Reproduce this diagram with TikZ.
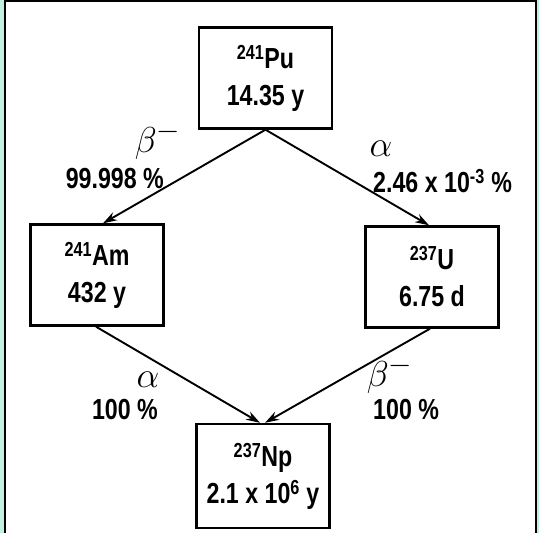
\documentclass[tikz,border=0pt]{standalone}
\usepackage{fontspec}
\usepackage{graphicx}
\setmainfont[FakeStretch=0.8]{Liberation Sans}
\usetikzlibrary{arrows.meta,positioning}
\definecolor{mint}{HTML}{C2F0DE}
\newcommand{\grk}[1]{\scalebox{1.45}{$#1$}}
\tikzset{
  nuc/.style  ={draw=black,line width=2.4pt,minimum width=133pt,minimum height=101pt,
                align=center,inner sep=0pt},
  decay/.style={-{Stealth[length=14pt,width=9pt]},line width=1.9pt},
  lab/.style  ={inner sep=0pt}
}

\begin{document}
\begin{tikzpicture}[x=1pt,y=1pt,every node/.style={font=\fontsize{29}{37}\selectfont\bfseries}]
  \useasboundingbox (0,0) rectangle (539,533);
  % frame
  \fill[mint] (0,0) rectangle (4,533);
  \fill[mint] (536.5,0) rectangle (539,533);
  \draw[line width=2pt] (5,0) -- (5,532) -- (535.5,532) -- (535.5,0);
  % nuclides
  \node[nuc] (pu) at (265.5,455) {\textsuperscript{241}Pu\\14.35 y};
  \node[nuc] (am) at (97,258) {\textsuperscript{241}Am\\432 y};
  \node[nuc] (u)  at (432,256) {\textsuperscript{237}U\\6.75 d};
  \node[nuc,minimum height=104pt] (np) at (263,57) {\textsuperscript{237}Np\\2.1 x 10\textsuperscript{6} y};
  % decays
  \draw[decay] (pu.south) -- ([xshift=6pt]am.north);
  \draw[decay] (pu.south) -- ([xshift=-3pt]u.north);
  \draw[decay] ([xshift=-1pt]am.south) -- ([xshift=-3pt]np.north);
  \draw[decay] ([xshift=-2pt]u.south) -- ([xshift=2pt]np.north);
  % branchings
  \node[lab] (bpu) at (158,392) {\grk{\beta^-}};
  \node[lab,anchor=east] (ppu) at (164,354) {99.998 \%};
  \node[lab] (apu) at (381,384) {\grk{\alpha}};
  \node[lab,anchor=west] (qpu) at (373,352) {2.46 x 10\textsuperscript{-3} \%};
  \node[lab] (aam) at (148,153) {\grk{\alpha}};
  \node[lab,anchor=east] (pam) at (158,123) {100 \%};
  \node[lab] (bu)  at (390,158) {\grk{\beta^-}};
  \node[lab,anchor=west] (pu2) at (373,123) {100 \%};
\end{tikzpicture}
\end{document}
